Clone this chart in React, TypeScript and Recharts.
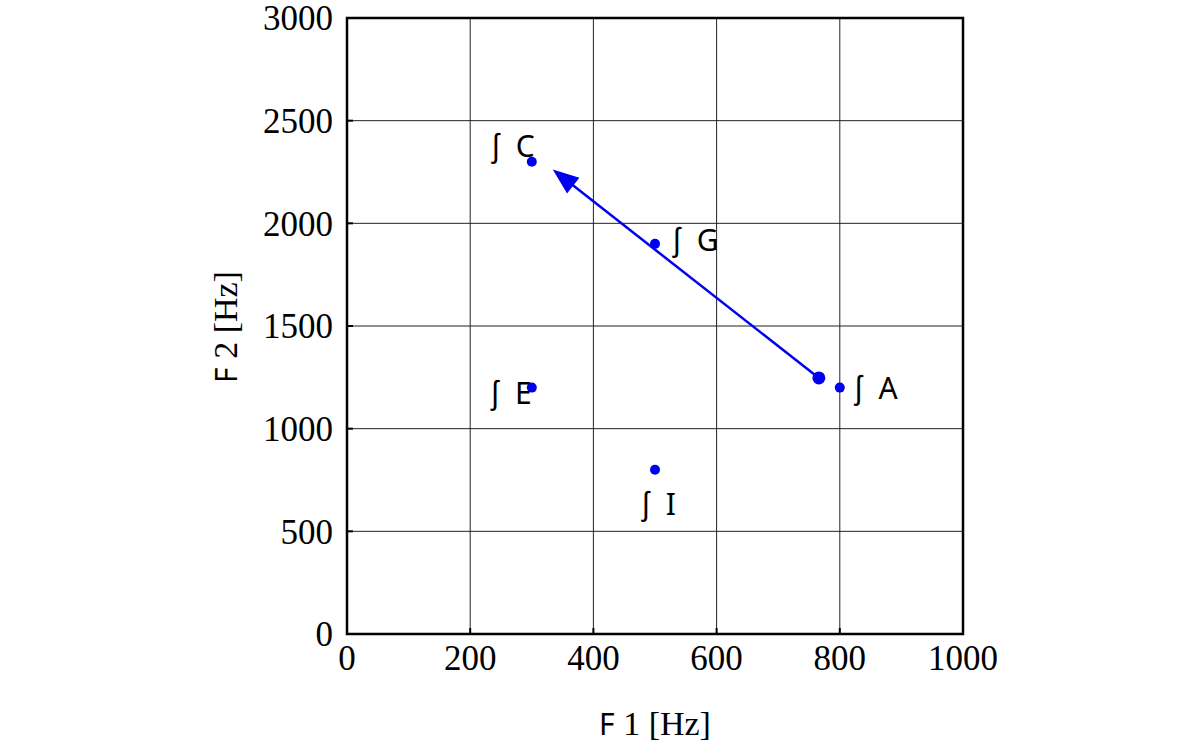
import React from 'react';
import {
  ScatterChart, Scatter, XAxis, YAxis, CartesianGrid, ReferenceArea, ReferenceLine,
} from 'recharts';

// ---- data ----
const vowels = ['C', 'G', 'A', 'E', 'I'];
const f1Values = [300, 500, 800, 300, 500];
const f2Values = [2300, 1900, 1200, 1200, 800];
const arrowFrom = { f1: 766, f2: 1247 };
const arrowTo = { f1: 334, f2: 2262 };
const xTicks = [0, 200, 400, 600, 800, 1000];
const yTicks = [0, 500, 1000, 1500, 2000, 2500, 3000];

const points = vowels.map((v, i) => ({ name: v, f1: f1Values[i], f2: f2Values[i] }));
const tailPoint = [{ name: 'tail', f1: arrowFrom.f1, f2: arrowFrom.f2 }];

// ---- style ----
const BLUE = '#0000f0';
const SERIF = '"Liberation Serif", "Times New Roman", serif';
const SANS = '"Noto Sans", "DejaVu Sans", sans-serif';
const labelStyle: Record<string, { dx: number; dy: number; anchor: 'start' | 'middle' | 'end' }> = {
  C: { dx: 3, dy: -5, anchor: 'end' },
  G: { dx: 18, dy: 7, anchor: 'start' },
  A: { dx: 15, dy: 11, anchor: 'start' },
  E: { dx: 0, dy: 16, anchor: 'end' },
  I: { dx: 4, dy: 45, anchor: 'middle' },
};

const PointShape = (p: any) => {
  const s = labelStyle[p.payload.name];
  return (
    <g>
      <circle cx={p.cx} cy={p.cy} r={5} fill={BLUE} />
      <text
        x={p.cx + s.dx}
        y={p.cy + s.dy}
        textAnchor={s.anchor}
        fontFamily={SANS}
        fontSize={30}
        fill="#000"
      >
        <tspan>ʃ</tspan>
        <tspan dx={16}>{p.payload.name}</tspan>
      </text>
    </g>
  );
};

const TailShape = (p: any) => <circle cx={p.cx} cy={p.cy} r={6.5} fill={BLUE} />;

const ArrowShape = (p: any) => {
  const { x1, y1, x2, y2 } = p;
  const dx = x2 - x1;
  const dy = y2 - y1;
  const len = Math.sqrt(dx * dx + dy * dy);
  const ux = dx / len;
  const uy = dy / len;
  const headLen = 26;
  const headHalf = 10;
  const bx = x2 - ux * headLen;
  const by = y2 - uy * headLen;
  const px = -uy;
  const py = ux;
  return (
    <g>
      <line x1={x1} y1={y1} x2={bx + ux * 2} y2={by + uy * 2} stroke={BLUE} strokeWidth={2.5} />
      <polygon
        points={`${x2},${y2} ${bx + px * headHalf},${by + py * headHalf} ${bx - px * headHalf},${by - py * headHalf}`}
        fill={BLUE}
      />
    </g>
  );
};

const XTitle = (p: any) => {
  const vb = p.viewBox;
  return (
    <text x={vb.x + vb.width / 2} y={vb.y + 101} textAnchor="middle" fill="#000" fontSize={34}>
      <tspan fontFamily={SANS} fontSize={30}>F</tspan>
      <tspan fontFamily={SERIF}>{' 1 [Hz]'}</tspan>
    </text>
  );
};

const YTitle = (p: any) => {
  const vb = p.viewBox;
  const cx = 237;
  const cy = vb.y + vb.height / 2 + 1;
  return (
    <text x={cx} y={cy} transform={`rotate(-90 ${cx} ${cy})`} textAnchor="middle" fill="#000" fontSize={34}>
      <tspan fontFamily={SANS} fontSize={30}>F</tspan>
      <tspan fontFamily={SERIF}>{' 2 [Hz]'}</tspan>
    </text>
  );
};

export default function App() {
  return (
    <div style={{ position: 'absolute', left: 0, top: 0, width: 1200, height: 746, background: '#fff' }}>
      <ScatterChart width={1200} height={746} margin={{ top: 18, right: 237, bottom: 0, left: 0 }}>
        <CartesianGrid stroke="#222" strokeWidth={1} />
        <XAxis
          type="number"
          dataKey="f1"
          domain={[0, 1000]}
          ticks={xTicks}
          height={112}
          axisLine={false}
          tickSize={-6}
          tickMargin={17}
          tickLine={{ stroke: '#000', strokeWidth: 2 }}
          tick={{ fill: '#000', fontSize: 35, fontFamily: SERIF }}
          interval={0}
          label={{ content: XTitle }}
        />
        <YAxis
          type="number"
          dataKey="f2"
          domain={[0, 3000]}
          ticks={yTicks}
          width={347}
          axisLine={false}
          tickSize={-6}
          tickMargin={20}
          tickLine={{ stroke: '#000', strokeWidth: 2 }}
          tick={{ fill: '#000', fontSize: 35, fontFamily: SERIF }}
          interval={0}
          label={{ content: YTitle }}
        />
        <ReferenceArea x1={0} x2={1000} y1={0} y2={3000} fill="none" stroke="#000" strokeWidth={2.5} fillOpacity={0} />
        <ReferenceLine
          segment={[{ x: arrowFrom.f1, y: arrowFrom.f2 }, { x: arrowTo.f1, y: arrowTo.f2 }]}
          shape={ArrowShape}
        />
        <Scatter data={tailPoint} shape={TailShape} isAnimationActive={false} />
        <Scatter data={points} shape={PointShape} isAnimationActive={false} />
      </ScatterChart>
    </div>
  );
}
